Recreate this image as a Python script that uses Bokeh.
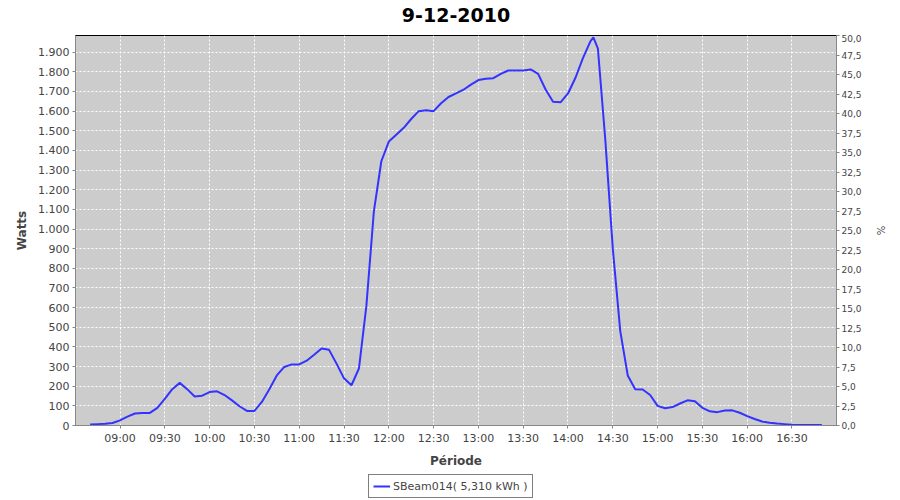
from bokeh.plotting import figure
from bokeh.models import Range1d, LinearAxis, FixedTicker, Legend, LegendItem, ColumnDataSource
from bokeh.core.properties import value
from bokeh.layouts import column
from bokeh.embed import file_html
from bokeh.resources import INLINE

# ---- data (minutes after midnight, watts) ----
minutes = [520, 525, 530, 535, 540, 545, 550, 555, 560, 565, 570, 575, 580, 585, 590,
           595, 600, 605, 610, 615, 620, 625, 630, 635, 640, 645, 650, 655, 660, 665,
           670, 675, 680, 685, 690, 695, 700, 705, 710, 715, 720, 725, 730, 735, 740,
           745, 750, 755, 760, 765, 770, 775, 780, 785, 790, 795, 800, 805, 810, 815,
           820, 825, 830, 835, 840, 845, 850, 855, 857, 860, 865, 870, 875, 880, 885,
           890, 895, 900, 905, 910, 915, 920, 925, 930, 935, 940, 945, 950, 955, 960,
           965, 970, 975, 980, 985, 990, 995, 1000, 1005, 1010]
watts = [5, 7, 9, 13, 26, 45, 61, 63, 64, 90, 135, 185, 217, 185, 148,
         152, 170, 174, 155, 128, 98, 74, 74, 120, 185, 255, 298, 311, 311, 330,
         360, 392, 385, 315, 240, 205, 290, 610, 1090, 1345, 1445, 1480, 1515, 1560, 1600,
         1605, 1600, 1640, 1672, 1690, 1709, 1735, 1758, 1765, 1768, 1790, 1807, 1807, 1807, 1812,
         1790, 1710, 1648, 1645, 1690, 1770, 1870, 1955, 1976, 1920, 1452, 900, 480, 255, 185,
         183, 155, 100, 88, 94, 112, 128, 124, 90, 72, 68, 76, 77, 65, 48,
         33, 20, 14, 10, 7, 4, 3, 3, 3, 3]

series_label = "SBeam014( 5,310 kWh )"
title_text = "9-12-2010"

time_ticks = [540, 570, 600, 630, 660, 690, 720, 750, 780, 810, 840, 870, 900, 930, 960, 990]
time_labels = ["09:00", "09:30", "10:00", "10:30", "11:00", "11:30", "12:00", "12:30",
               "13:00", "13:30", "14:00", "14:30", "15:00", "15:30", "16:00", "16:30"]

watt_ticks = [0, 100, 200, 300, 400, 500, 600, 700, 800, 900, 1000, 1100, 1200, 1300,
              1400, 1500, 1600, 1700, 1800, 1900]
watt_labels = ["0", "100", "200", "300", "400", "500", "600", "700", "800", "900", "1.000",
               "1.100", "1.200", "1.300", "1.400", "1.500", "1.600", "1.700", "1.800", "1.900"]

pct_ticks = [0, 2.5, 5, 7.5, 10, 12.5, 15, 17.5, 20, 22.5, 25, 27.5, 30, 32.5, 35, 37.5,
             40, 42.5, 45, 47.5, 50]
pct_labels = ["0,0", "2,5", "5,0", "7,5", "10,0", "12,5", "15,0", "17,5", "20,0", "22,5",
              "25,0", "27,5", "30,0", "32,5", "35,0", "37,5", "40,0", "42,5", "45,0",
              "47,5", "50,0"]

FONT = "DejaVu Sans"
LABEL_COLOR = "#444444"
AXIS_COLOR = "#888888"
LINE_COLOR = "#3333ff"

# ---- title strip ----
tp = figure(width=900, height=34, output_backend="svg", toolbar_location=None,
            x_range=Range1d(0, 900), y_range=Range1d(0, 34),
            x_axis_type=None, y_axis_type=None,
            min_border_left=0, min_border_right=0, min_border_top=0, min_border_bottom=0,
            background_fill_color="white", border_fill_color="white")
tp.outline_line_color = None
tp.xgrid.visible = False
tp.ygrid.visible = False
tp.text(x=[450], y=[20], text=[title_text], text_align="center", text_baseline="middle",
        text_font=value(FONT), text_font_size="19px", text_font_style="bold", text_color="black")

# ---- main chart ----
p = figure(width=900, height=437, output_backend="svg", toolbar_location=None,
           x_range=Range1d(510.2, 1019.8), y_range=Range1d(0, 1985),
           min_border_left=75, min_border_right=64, min_border_top=1, min_border_bottom=46,
           background_fill_color="#cccccc", border_fill_color="white")
p.extra_y_ranges = {"pct": Range1d(0, 50)}
p.outline_line_color = "black"
p.outline_line_width = 1

src = ColumnDataSource(dict(x=minutes, y=watts))
r = p.line("x", "y", source=src, line_color=LINE_COLOR, line_width=2)

xa = p.xaxis[0]
xa.ticker = FixedTicker(ticks=time_ticks)
xa.major_label_overrides = {t: l for t, l in zip(time_ticks, time_labels)}
xa.axis_label = "Période"

ya = p.yaxis[0]
ya.ticker = FixedTicker(ticks=watt_ticks)
ya.major_label_overrides = {t: l for t, l in zip(watt_ticks, watt_labels)}
ya.axis_label = "Watts"

for ax in (xa, ya):
    ax.axis_line_color = AXIS_COLOR
    ax.major_tick_line_color = AXIS_COLOR
    ax.major_tick_in = 0
    ax.major_tick_out = 3
    ax.minor_tick_line_color = None
    ax.major_label_text_font = FONT
    ax.major_label_text_font_size = "11px"
    ax.major_label_text_color = LABEL_COLOR
    ax.axis_label_text_font = FONT
    ax.axis_label_text_font_size = "12px"
    ax.axis_label_text_font_style = "bold"
    ax.axis_label_text_color = LABEL_COLOR
    ax.major_label_standoff = 3
    ax.axis_label_standoff = 6

ra = LinearAxis(y_range_name="pct", ticker=FixedTicker(ticks=pct_ticks), axis_label="%")
ra.major_label_overrides = {t: l for t, l in zip(pct_ticks, pct_labels)}
ra.axis_line_color = AXIS_COLOR
ra.major_tick_line_color = AXIS_COLOR
ra.major_tick_in = 0
ra.major_tick_out = 3
ra.minor_tick_line_color = None
ra.major_label_text_font = FONT
ra.major_label_text_font_size = "9px"
ra.major_label_text_color = LABEL_COLOR
ra.major_label_standoff = 2
ra.axis_label_text_font = FONT
ra.axis_label_text_font_size = "10px"
ra.axis_label_text_font_style = "normal"
ra.axis_label_text_color = LABEL_COLOR
ra.axis_label_standoff = 10
p.add_layout(ra, "right")

p.xgrid.ticker = FixedTicker(ticks=time_ticks)
p.ygrid.ticker = FixedTicker(ticks=watt_ticks)
for g in (p.xgrid[0], p.ygrid[0]):
    g.grid_line_color = "white"
    g.grid_line_dash = "2 2"
    g.grid_line_width = 1

# ---- legend strip ----
lp = figure(width=900, height=29, output_backend="svg", toolbar_location=None,
            x_range=Range1d(0, 1), y_range=Range1d(0, 1),
            x_axis_type=None, y_axis_type=None,
            min_border_left=0, min_border_right=0, min_border_top=0, min_border_bottom=0,
            background_fill_color="white", border_fill_color="white")
lp.outline_line_color = None
lp.xgrid.visible = False
lp.ygrid.visible = False
lr = lp.line(x=[-10, -9], y=[-10, -9], line_color=LINE_COLOR, line_width=2)

legend = Legend(items=[LegendItem(label=series_label, renderers=[lr])],
                location=(293, 2), orientation="horizontal",
                border_line_color="black", border_line_width=1,
                background_fill_color="white", background_fill_alpha=1.0,
                label_text_font=FONT, label_text_font_size="11px", label_text_color=LABEL_COLOR,
                glyph_width=17, glyph_height=12, label_standoff=3, padding=4, spacing=0,
                margin=0, label_height=14)
lp.add_layout(legend, "center")

layout = column(tp, p, lp, spacing=0)
open("out.html", "w").write(file_html(layout, INLINE))
